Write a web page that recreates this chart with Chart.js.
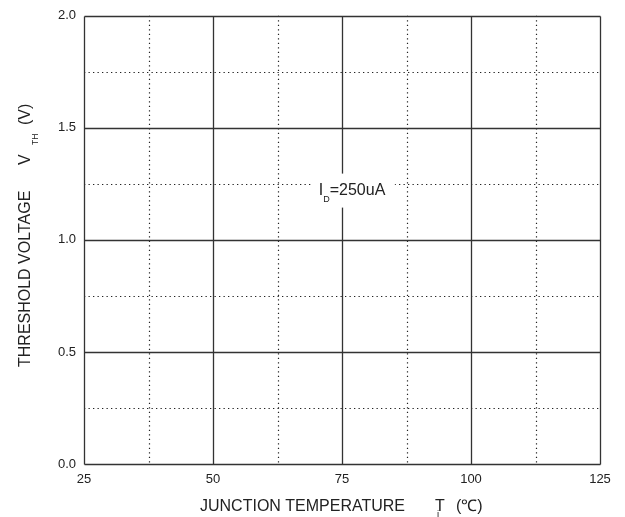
<!DOCTYPE html>
<html><head><meta charset="utf-8">
<script src="https://cdn.jsdelivr.net/npm/chart.js@4/dist/chart.umd.min.js"></script>
<style>html,body{margin:0;padding:0;background:#fff}#wrap{width:625px;height:517px;position:relative}</style>
</head><body><div id="wrap"><canvas id="c" width="625" height="517"></canvas></div>
<script>
const xMajorTicks = [25, 50, 75, 100, 125];
const xMinorTicks = [37.5, 62.5, 87.5, 112.5];
const yMajorTicks = [0.0, 0.5, 1.0, 1.5, 2.0];
const yMinorTicks = [0.25, 0.75, 1.25, 1.75];
// [text, kind, offset along the text direction]
const xTitleParts = [["JUNCTION TEMPERATURE", "", 0], ["T", "", 235], ["i", "sub", 237], ["(\u2103)", "", 256]];
const yTitleParts = [["THRESHOLD VOLTAGE", "", 0], ["V", "", 202], ["TH", "sub", 222], ["(V)", "", 242]];
const noteParts = [["I", ""], ["D", "sub"], ["=250uA", ""]];
const notePos = {x: 70.5, y: 1.22};

const FONT = '"Liberation Sans", Arial, sans-serif';
const TXT = '#222';

function drawFlow(ctx, parts, size, subSize, subDrop, x, y) {
  let cx = x;
  for (const [t, k] of parts) {
    ctx.font = (k === 'sub' ? subSize : size) + 'px ' + FONT;
    ctx.fillText(t, cx, k === 'sub' ? y + subDrop : y);
    cx += ctx.measureText(t).width;
  }
  return cx - x;
}
function drawPlaced(ctx, parts, size, subSize, subDrop) {
  for (const [t, k, off] of parts) {
    ctx.font = (k === 'sub' ? subSize : size) + 'px ' + FONT;
    ctx.fillText(t, off, k === 'sub' ? subDrop : 0);
  }
}
function flowWidth(ctx, parts, size, subSize) {
  let w = 0;
  for (const [t, k] of parts) {
    ctx.font = (k === 'sub' ? subSize : size) + 'px ' + FONT;
    w += ctx.measureText(t).width;
  }
  return w;
}

const gridPlugin = {
  id: 'gridPlugin',
  afterDraw(chart) {
    const ctx = chart.ctx;
    const xs = chart.scales.x, ys = chart.scales.y;
    const a = chart.chartArea;
    const px = v => Math.round(xs.getPixelForValue(v)) + 0.5;
    const py = v => Math.round(ys.getPixelForValue(v)) + 0.5;
    ctx.save();
    // dotted minor lines
    ctx.strokeStyle = '#222';
    ctx.lineWidth = 1.2;
    ctx.setLineDash([1.3, 3.2]);
    for (const v of xMinorTicks) { ctx.beginPath(); ctx.moveTo(px(v), a.top); ctx.lineTo(px(v), a.bottom); ctx.stroke(); }
    for (const v of yMinorTicks) { ctx.beginPath(); ctx.moveTo(a.left, py(v)); ctx.lineTo(a.right, py(v)); ctx.stroke(); }
    // solid major lines
    ctx.setLineDash([]);
    ctx.strokeStyle = '#333';
    ctx.lineWidth = 1.3;
    for (const v of xMajorTicks) { ctx.beginPath(); ctx.moveTo(px(v), py(2.0)); ctx.lineTo(px(v), py(0)); ctx.stroke(); }
    for (const v of yMajorTicks) { ctx.beginPath(); ctx.moveTo(px(25), py(v)); ctx.lineTo(px(125), py(v)); ctx.stroke(); }
    // note label
    const nx = xs.getPixelForValue(notePos.x), ny = ys.getPixelForValue(notePos.y);
    const nw = flowWidth(ctx, noteParts, 16, 9);
    ctx.fillStyle = '#fff';
    ctx.fillRect(nx - 6, ny - 17, Math.max(nw + 10, 82), 34);
    ctx.fillStyle = TXT;
    ctx.textBaseline = 'alphabetic';
    ctx.textAlign = 'left';
    drawFlow(ctx, noteParts, 16, 9, 7, nx, ny + 4);
    // x title
    ctx.save();
    ctx.translate(200, 511);
    drawPlaced(ctx, xTitleParts, 16, 9.5, 6);
    ctx.restore();
    // y title
    ctx.save();
    ctx.translate(30, 367);
    ctx.rotate(-Math.PI / 2);
    drawPlaced(ctx, yTitleParts, 16, 8.5, 8);
    ctx.restore();
    ctx.restore();
  }
};

new Chart(document.getElementById('c'), {
  type: 'scatter',
  data: { datasets: [{ data: [], showLine: false }] },
  options: {
    responsive: false,
    animation: false,
    devicePixelRatio: 1,
    layout: { padding: { top: 15, right: 25, left: 0, bottom: 0 } },
    plugins: { legend: { display: false }, tooltip: { enabled: false } },
    scales: {
      x: {
        type: 'linear', min: 25, max: 125,
        afterBuildTicks: s => { s.ticks = xMajorTicks.map(v => ({ value: v })); },
        afterFit: s => { s.height = 53; },
        grid: { display: false, drawTicks: false },
        border: { display: false },
        ticks: { padding: 8, color: TXT, font: { family: FONT, size: 13 }, maxRotation: 0, callback: v => String(v) }
      },
      y: {
        type: 'linear', min: 0, max: 2,
        afterBuildTicks: s => { s.ticks = yMajorTicks.map(v => ({ value: v })); },
        afterFit: s => { s.width = 84; },
        grid: { display: false, drawTicks: false },
        border: { display: false },
        ticks: { padding: 8, color: TXT, font: { family: FONT, size: 13 }, callback: v => Number(v).toFixed(1) }
      }
    }
  },
  plugins: [gridPlugin]
});
</script>
</body></html>
